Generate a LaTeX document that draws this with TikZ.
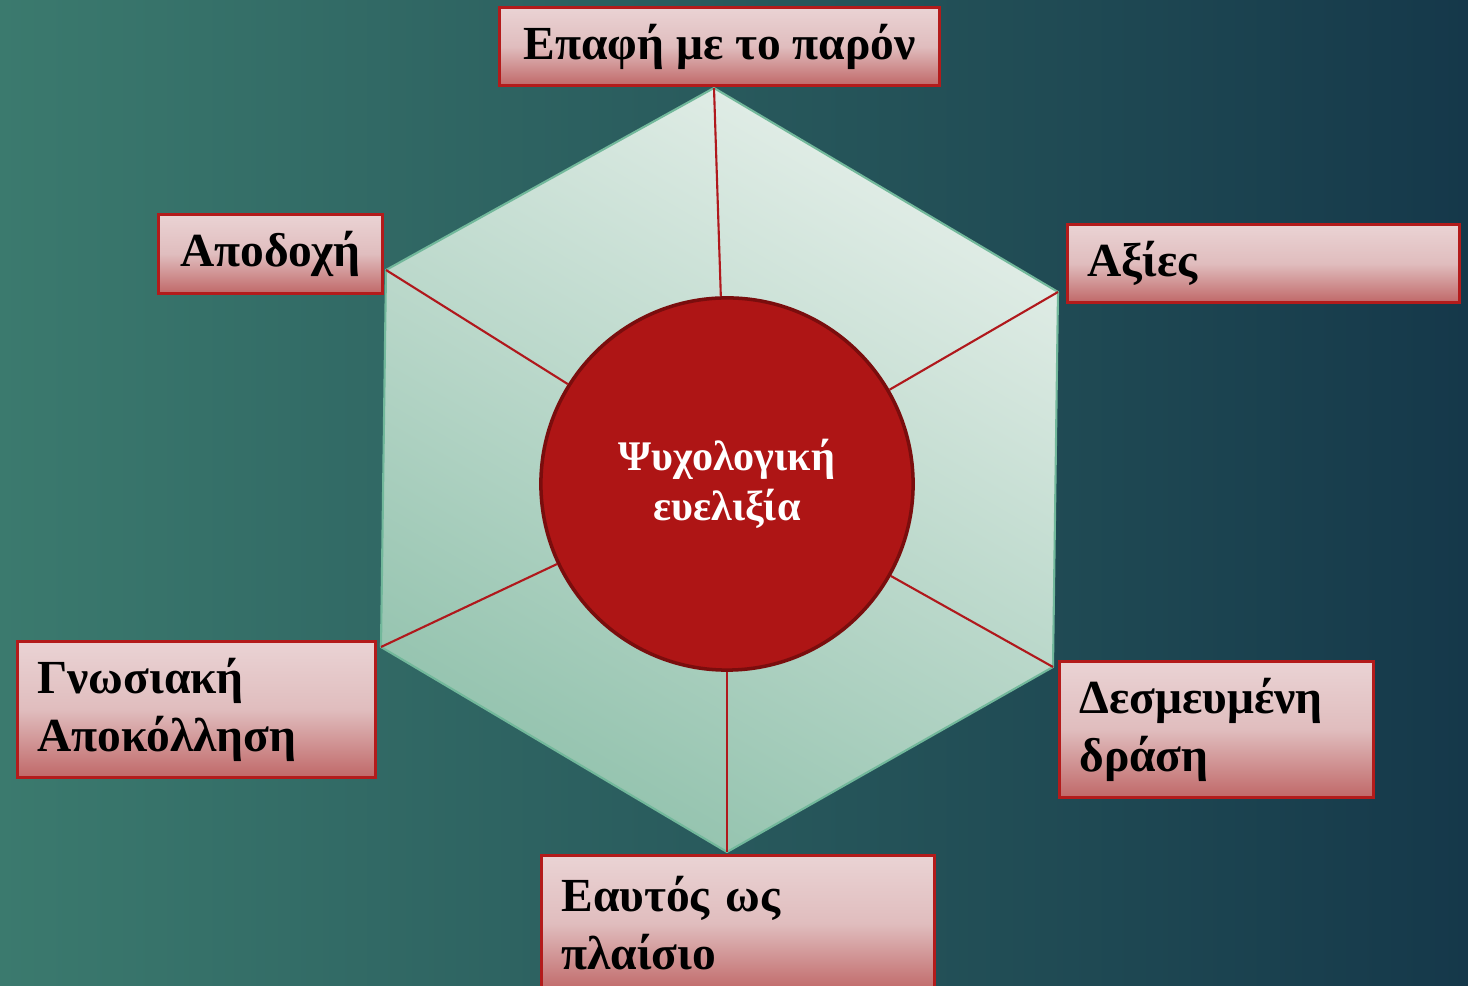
\documentclass[tikz,border=0pt]{standalone}
\usepackage{fontspec}
\setmainfont{Liberation Serif}
\definecolor{bgleft}{HTML}{3B7A6E}
\definecolor{bgright}{HTML}{15384A}
\definecolor{hexlight}{HTML}{E3EEE8}
\definecolor{hexdark}{HTML}{92C2AD}
\definecolor{hexedge}{HTML}{72B89B}
\definecolor{spokered}{HTML}{B0181C}
\definecolor{corefill}{HTML}{AE1515}
\definecolor{coreedge}{HTML}{7A0D0D}
\definecolor{boxtop}{HTML}{EAD3D4}
\definecolor{boxmid}{HTML}{E0BDBE}
\definecolor{boxbot}{HTML}{C06868}
\definecolor{boxedge}{HTML}{B31B1B}

\begin{document}
\begin{tikzpicture}[x=0.01cm,y=-0.01cm,
  tagbox/.style={draw=boxedge, line width=0.8pt, top color=boxtop, bottom color=boxbot,
    middle color=boxmid, anchor=north west, inner xsep=0.2cm, align=left,
    font=\bfseries\fontsize{13.5}{16.5}\selectfont},
  spoke/.style={draw=spokered, line width=0.6pt},
  core/.style={circle, draw=coreedge, line width=1pt, fill=corefill, minimum size=3.72cm,
    text=white, align=center, font=\bfseries\fontsize{12}{14.2}\selectfont}]
\useasboundingbox (0,0) rectangle (1468,986);
\clip (0,0) rectangle (1468,986);
\shade[left color=bgleft, right color=bgright] (0,0) rectangle (1468,986);

\coordinate (vtop) at (714,88);
\coordinate (vur) at (1058,292);
\coordinate (vlr) at (1053,667);
\coordinate (vbot) at (727,852);
\coordinate (vll) at (381,647);
\coordinate (vul) at (386,270);
\shade[top color=hexlight, bottom color=hexdark, shading angle=-30]
  (vtop) -- (vur) -- (vlr) -- (vbot) -- (vll) -- (vul) -- cycle;
\draw[hexedge, line width=0.6pt, line join=round]
  (vtop) -- (vur) -- (vlr) -- (vbot) -- (vll) -- (vul) -- cycle;

\node[core] (core) at (727,484) {Ψυχολογική\\ευελιξία};
\foreach \v in {vtop,vur,vlr,vbot,vll,vul}
  \draw[spoke] (\v) -- (core);

\node[tagbox, minimum width=4.40cm, minimum height=0.78cm, align=center]
  (paron) at (498,6) {Επαφή με το παρόν};
\node[tagbox, minimum width=2.24cm, minimum height=0.79cm, align=center]
  (apodoxi) at (157,213) {Αποδοχή};
\node[tagbox, minimum width=3.92cm, minimum height=0.78cm, text width=3.52cm]
  (axies) at (1066,223) {Αξίες};
\node[tagbox, minimum width=3.58cm, minimum height=1.36cm, text width=3.18cm]
  (gnosiaki) at (16,640) {Γνωσιακή\\Αποκόλληση};
\node[tagbox, minimum width=3.14cm, minimum height=1.36cm, text width=2.74cm]
  (drasi) at (1058,660) {Δεσμευμένη\\δράση};
\node[tagbox, minimum width=3.93cm, minimum height=1.36cm, text width=3.53cm]
  (eaftos) at (540,854) {Εαυτός ως\\πλαίσιο};
\end{tikzpicture}
\end{document}
